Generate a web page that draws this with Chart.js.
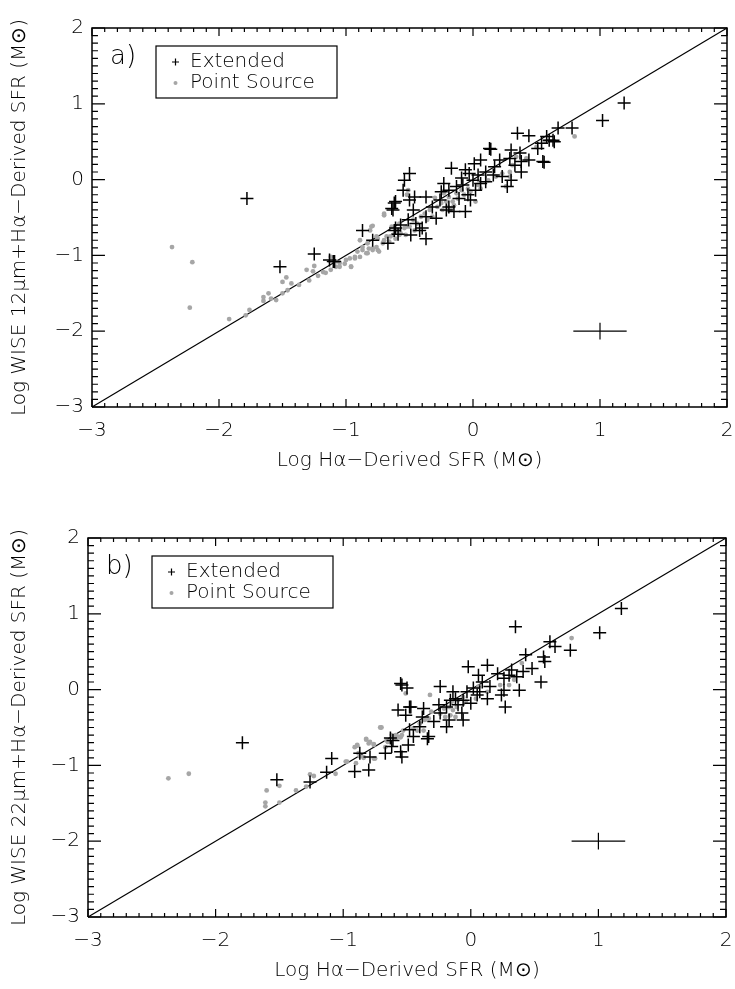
<!DOCTYPE html>
<html>
<head>
<meta charset="utf-8">
<script src="https://cdn.jsdelivr.net/npm/chart.js@4.4.1/dist/chart.umd.min.js"></script>
<style>
  body { margin: 0; background: #fff; }
  #wrap { position: relative; width: 735px; height: 989px; }
  .panel { position: absolute; left: 0; width: 735px; }
</style>
</head>
<body>
<div id="wrap">
  <div class="panel" style="top:0;height:494px"><canvas id="chartA"></canvas></div>
  <div class="panel" style="top:494px;height:495px"><canvas id="chartB"></canvas></div>
</div>
<script>
// axis ticks (log SFR)
const majorTicks = [-3, -2, -1, 0, 1, 2];
const minorStep = 0.1;

// 1:1 line
const oneToOne = [[-3, -3], [2, 2]];

// typical error bar drawn at (1, -2)
const errCenter = [1, -2];
const errX = 0.21;
const errY = 0.11;

// panel a) WISE 12um + Halpha vs Halpha
const extA = [
  [1.19,1.01],[1.02,0.78],[0.78,0.68],[0.67,0.68],[0.35,0.61],[0.44,0.58],[0.60,0.52],[0.64,0.50],
  [0.54,0.48],[0.51,0.41],[0.56,0.23],[0.14,0.40],[0.30,0.39],[0.37,0.35],[0.29,0.28],[0.44,0.26],
  [0.38,0.24],[0.33,0.19],[0.21,0.26],[0.06,0.26],[0.01,0.21],[0.17,0.17],[0.38,0.10],[0.23,0.04],
  [0.30,-0.01],[0.27,-0.09],[0.10,0.10],[0.16,0.06],[0.04,0.06],[-0.03,0.08],[-0.17,0.15],[-0.06,0.13],
  [-0.09,0.02],[0.00,-0.01],[0.06,-0.05],[0.10,-0.03],[-0.08,-0.07],[-0.13,-0.09],[0.02,-0.14],[-0.23,-0.05],
  [-0.25,-0.16],[-0.19,-0.14],[-0.04,-0.20],[-0.02,-0.27],[-0.11,-0.25],[-0.19,-0.36],[-0.15,-0.42],[-0.06,-0.42],
  [-0.26,-0.27],[-0.32,-0.36],[-0.50,0.08],[-0.54,-0.01],[-0.55,-0.14],[-0.50,-0.27],[-0.61,-0.29],[-0.64,-0.38],
  [-0.46,-0.23],[-0.37,-0.23],[-0.47,-0.40],[-0.51,-0.53],[-0.45,-0.58],[-0.37,-0.49],[-0.61,-0.64],[-0.57,-0.60],
  [-0.87,-0.67],[-0.79,-0.80],[-0.67,-0.84],[-0.49,-0.73],[-0.42,-0.67],[-1.10,-1.08],[-0.29,-0.51],[-0.21,-0.40],
  [-1.78,-0.25],[-1.52,-1.15],[-1.25,-0.98],[-1.13,-1.06],[-1.09,-1.08],[-0.63,-0.40],[-0.62,-0.31],[-0.62,-0.67],
  [-0.40,-0.64],[-0.37,-0.78],[-0.59,-0.72],[0.13,0.41],[0.55,0.24],[0.63,0.52],[0.58,0.57]
];
const ptA = [
  [-2.37,-0.89],[-2.21,-1.09],[-2.23,-1.69],[-1.92,-1.84],[-1.79,-1.79],[-1.76,-1.72],[-1.65,-1.55],[-1.65,-1.60],
  [-1.61,-1.50],[-1.59,-1.57],[-1.55,-1.59],[-1.50,-1.50],[-1.50,-1.35],[-1.47,-1.29],[-1.46,-1.46],[-1.43,-1.37],
  [-1.37,-1.39],[-1.31,-1.19],[-1.29,-1.33],[-1.25,-1.14],[-1.26,-1.21],[-1.22,-1.27],[-1.18,-1.22],[-1.16,-1.23],
  [-1.12,-1.19],[-1.08,-1.15],[-1.05,-1.10],[-1.00,-1.06],[-0.96,-1.15],[-0.93,-1.04],[-0.89,-1.02],[-0.89,-0.80],
  [-0.87,-0.93],[-0.83,-0.97],[-0.81,-0.67],[-0.79,-0.61],[-0.79,-0.91],[-0.75,-0.93],[-0.76,-0.75],[-0.70,-0.45],
  [-0.70,-0.80],[-0.66,-0.82],[-0.65,-0.75],[-0.61,-0.78],[-0.58,-0.73],[-0.52,-0.62],[-0.52,-0.20],[0.80,0.57],
  [-1.12,-1.02],[-1.08,-1.08],[-1.01,-1.11],[-1.05,-1.15],[-0.96,-1.15],[-0.97,-1.04],[-0.93,-1.02],[-0.91,-0.95],
  [-0.87,-0.89],[-0.84,-0.97],[-0.83,-0.84],[-0.82,-0.91],[-0.80,-0.62],[-0.79,-0.93],[-0.76,-0.89],[-0.75,-0.78],
  [-0.74,-0.95],[-0.71,-0.84],[-0.70,-0.47],[-0.68,-0.75],[-0.64,-0.62],[-0.63,-0.73],[-0.59,-0.67],[-0.58,-0.58],
  [-0.57,-0.71],[-0.54,-0.64],[-0.53,-0.73],[-0.51,-0.14],[-0.50,-0.62],[-0.47,-0.53],[-0.46,-0.67],[-0.44,-0.58],
  [-0.41,-0.49],[-0.38,-0.45],[-0.36,-0.53],[-0.34,-0.40],[-0.32,-0.49],[-0.30,-0.24],[-0.28,-0.36],[-0.25,-0.31],
  [-0.24,-0.40],[-0.23,-0.18],[-0.21,-0.29],[-0.20,-0.36],[-0.19,-0.23],[-0.17,-0.38],[-0.16,-0.29],[-0.15,-0.34],
  [-0.13,-0.18],[-0.12,-0.25],[-0.09,-0.14],[-0.07,-0.20],[-0.04,-0.12],[-0.02,-0.16],[0.02,-0.29],[0.04,-0.07],
  [0.06,-0.12],[0.12,-0.01],[0.18,0.04],[0.23,0.08],[0.29,0.10],[0.31,0.19],[0.34,0.30],[0.42,0.28],
  [0.50,0.43],[0.57,0.50],[0.29,0.04],[0.26,-0.09]
];

// panel b) WISE 22um + Halpha vs Halpha
const extB = [
  [0.35,0.83],[1.01,0.75],[1.18,1.07],[0.78,0.52],[0.62,0.63],[0.66,0.57],[0.57,0.43],[0.58,0.37],
  [0.55,0.10],[0.48,0.28],[0.41,0.24],[0.43,0.46],[0.36,0.17],[0.32,0.26],[0.30,0.19],[0.26,0.15],
  [0.26,-0.01],[0.24,-0.07],[0.27,-0.23],[0.38,-0.01],[0.21,0.21],[0.13,0.32],[0.06,0.19],[-0.02,0.30],
  [0.09,0.10],[0.15,0.04],[0.13,-0.12],[0.02,0.02],[0.05,-0.07],[-0.03,-0.03],[-0.06,-0.14],[0.00,-0.18],
  [-0.10,-0.20],[-0.07,-0.31],[-0.06,-0.40],[-0.14,-0.03],[-0.16,-0.14],[-0.19,-0.23],[-0.17,-0.40],[-0.24,0.04],
  [-0.25,-0.20],[-0.24,-0.31],[-0.29,-0.42],[-0.37,-0.25],[-0.38,-0.36],[-0.33,-0.62],[-0.48,-0.23],[-0.55,0.08],
  [-0.50,0.02],[-0.57,-0.27],[-0.51,-0.34],[-0.48,-0.53],[-0.49,-0.73],[-0.55,-0.82],[-0.54,-0.89],[-0.63,-0.64],
  [-0.67,-0.84],[-0.79,-0.89],[-0.80,-1.06],[-0.91,-1.08],[-0.87,-0.84],[-1.09,-0.91],[-0.62,-0.75],[-0.45,-0.62],
  [-0.40,-0.49],[-1.79,-0.70],[-1.52,-1.19],[-1.26,-1.22],[-1.13,-1.09],[-0.54,0.06],[-0.47,-0.23],[-0.61,-0.67],
  [-0.34,-0.65],[-0.19,-0.49],[-0.12,-0.12],[0.07,-0.03]
];
const ptB = [
  [-2.37,-1.17],[-2.21,-1.11],[-1.60,-1.33],[-1.61,-1.49],[-1.61,-1.54],[-1.50,-1.27],[-1.50,-1.49],[-1.37,-1.33],
  [-1.29,-1.28],[-1.26,-1.12],[-1.23,-1.14],[-1.06,-1.11],[-0.98,-0.95],[-0.90,-0.97],[-0.91,-0.76],[-0.89,-0.74],
  [-0.87,-0.88],[-0.84,-0.90],[-0.82,-0.66],[-0.80,-0.71],[-0.76,-0.91],[-0.76,-0.72],[-0.70,-0.50],[-0.66,-0.67],
  [-0.61,-0.63],[-0.59,-0.60],[-0.55,-0.63],[-0.51,-0.05],[-0.53,-0.54],[0.79,0.68],[0.40,0.35],[-0.32,-0.07],
  [-0.71,-0.50],[-0.97,-0.95],[-0.89,-0.73],[-0.88,-0.84],[-0.84,-0.89],[-0.82,-0.65],[-0.79,-0.69],[-0.76,-0.73],
  [-0.75,-0.91],[-0.67,-0.76],[-0.65,-0.69],[-0.62,-0.60],[-0.59,-0.65],[-0.57,-0.62],[-0.54,-0.60],[-0.45,-0.51],
  [-0.42,-0.54],[-0.40,-0.45],[-0.37,-0.54],[-0.36,-0.40],[-0.33,-0.38],[-0.31,-0.29],[-0.24,-0.32],[-0.21,-0.25],
  [-0.20,-0.36],[-0.17,-0.23],[-0.16,-0.34],[-0.15,-0.16],[-0.14,-0.27],[-0.12,-0.36],[-0.11,-0.23],[-0.10,-0.14],
  [-0.06,-0.10],[-0.04,-0.16],[0.04,-0.12],[0.06,0.04],[0.13,-0.03],[0.23,0.06],[0.30,0.06],[0.34,0.13]
];

const FONT = "'DejaVu Sans'";
const toXY = arr => arr.map(p => ({x: p[0], y: p[1]}));
const fmt = v => (v < 0 ? '\u2212' + Math.abs(v) : String(v));

// IDL-style inward ticks, as line segments broken by null points
const lo = majorTicks[0];
const hi = majorTicks[majorTicks.length - 1];
function tickSegments() {
    const pts = [];
    const n = Math.round((hi - lo) / minorStep);
    for (let i = 0; i <= n; i++) {
        const v = lo + i * minorStep;
        const major = i % 10 === 0;
        const ty = major ? 0.105 : 0.053;   // length of top/bottom ticks (y units)
        const tx = major ? 0.102 : 0.047;   // length of left/right ticks (x units)
        pts.push({x: v, y: lo}, {x: v, y: lo + ty}, {x: v, y: null});
        pts.push({x: v, y: hi}, {x: v, y: hi - ty}, {x: v, y: null});
        pts.push({x: lo, y: v}, {x: lo + tx, y: v}, {x: lo, y: null});
        pts.push({x: hi, y: v}, {x: hi - tx, y: v}, {x: hi, y: null});
    }
    return pts;
}
const frameBox = [[lo, lo], [hi, lo], [hi, hi], [lo, hi], [lo, lo]];

// legend box and panel letter
const legendPlugin = {
    id: 'boxLegend',
    afterDraw(chart, args, opts) {
        const {ctx, chartArea: a} = chart;
        ctx.save();
        ctx.fillStyle = '#000';
        ctx.strokeStyle = '#000';
        ctx.textBaseline = 'middle';
        ctx.textAlign = 'left';
        ctx.font = '200 26px ' + FONT;
        ctx.fillText(opts.letter, a.left + 18, a.top + 29);

        ctx.lineWidth = 1.2;
        ctx.strokeRect(a.left + 64, a.top + 18, 181, 52);
        ctx.beginPath();
        ctx.moveTo(a.left + 80, a.top + 34); ctx.lineTo(a.left + 87, a.top + 34);
        ctx.moveTo(a.left + 83.5, a.top + 30.5); ctx.lineTo(a.left + 83.5, a.top + 37.5);
        ctx.stroke();
        ctx.fillStyle = '#a6a6a6';
        ctx.beginPath();
        ctx.arc(a.left + 83.5, a.top + 55, 2, 0, Math.PI * 2);
        ctx.fill();
        ctx.fillStyle = '#000';
        ctx.font = '200 20px ' + FONT;
        ctx.fillText('Extended', a.left + 98, a.top + 34);
        ctx.fillText('Point Source', a.left + 98, a.top + 55);
        ctx.restore();
    }
};

function makeChart(id, ext, pts, yTitle, letter, layoutPad, yWidth) {
    const lineSet = (label, data, width, order) => ({
        label: label,
        data: data,
        showLine: true,
        spanGaps: false,
        pointRadius: 0,
        borderColor: '#000',
        borderWidth: width,
        borderJoinStyle: 'miter',
        clip: false,
        order: order
    });
    const datasets = [
        {
            label: 'Extended',
            data: toXY(ext),
            pointStyle: 'cross',
            pointRadius: 6.5,
            borderColor: '#000',
            borderWidth: 1.5,
            order: 0
        },
        {
            label: 'Point Source',
            data: toXY(pts),
            pointStyle: 'circle',
            pointRadius: 2.4,
            borderWidth: 0,
            backgroundColor: '#a6a6a6',
            order: 1
        },
        lineSet('one-to-one', toXY(oneToOne), 1.2, 2),
        lineSet('err x', toXY([[errCenter[0] - errX, errCenter[1]], [errCenter[0] + errX, errCenter[1]]]), 1.2, 2),
        lineSet('err y', toXY([[errCenter[0], errCenter[1] - errY], [errCenter[0], errCenter[1] + errY]]), 1.2, 2),
        lineSet('ticks', tickSegments(), 1.2, 3),
        lineSet('frame', toXY(frameBox), 1.5, 3)
    ];

    const axisFont = {family: FONT, size: 20, weight: '200'};
    const setTicks = scale => { scale.ticks = majorTicks.map(v => ({value: v})); };

    return new Chart(document.getElementById(id), {
        type: 'scatter',
        data: {datasets: datasets},
        options: {
            responsive: true,
            maintainAspectRatio: false,
            animation: false,
            layout: {padding: layoutPad},
            plugins: {
                legend: {display: false},
                tooltip: {enabled: false},
                boxLegend: {letter: letter}
            },
            scales: {
                x: {
                    type: 'linear',
                    min: lo,
                    max: hi,
                    afterBuildTicks: setTicks,
                    afterFit: scale => {
                        scale.height = 66;
                        scale.paddingLeft = 0;
                        scale.paddingRight = 0;
                    },
                    grid: {display: false, drawTicks: false},
                    border: {display: false},
                    ticks: {
                        color: '#000',
                        font: axisFont,
                        padding: 12,
                        maxRotation: 0,
                        callback: v => fmt(v)
                    },
                    title: {
                        display: true,
                        text: 'Log H\u03b1\u2212Derived SFR (M\u2299)',
                        color: '#000',
                        font: axisFont,
                        padding: {top: 4, bottom: 0}
                    }
                },
                y: {
                    type: 'linear',
                    min: lo,
                    max: hi,
                    afterBuildTicks: setTicks,
                    afterFit: scale => {
                        scale.width = yWidth;
                        scale.paddingTop = 0;
                        scale.paddingBottom = 0;
                    },
                    grid: {display: false, drawTicks: false},
                    border: {display: false},
                    ticks: {
                        color: '#000',
                        font: axisFont,
                        padding: 8,
                        callback: v => fmt(v)
                    },
                    title: {
                        display: true,
                        text: yTitle,
                        color: '#000',
                        font: axisFont,
                        padding: {top: 8, bottom: 0}
                    }
                }
            }
        },
        plugins: [legendPlugin]
    });
}

var chartA = makeChart('chartA', extA, ptA,
    'Log WISE 12\u03bcm+H\u03b1\u2212Derived SFR (M\u2299)', 'a)',
    {top: 28, right: 7, bottom: 21, left: 0}, 92);
var chartB = makeChart('chartB', extB, ptB,
    'Log WISE 22\u03bcm+H\u03b1\u2212Derived SFR (M\u2299)', 'b)',
    {top: 44, right: 9, bottom: 6, left: 0}, 88);
</script>
</body>
</html>
